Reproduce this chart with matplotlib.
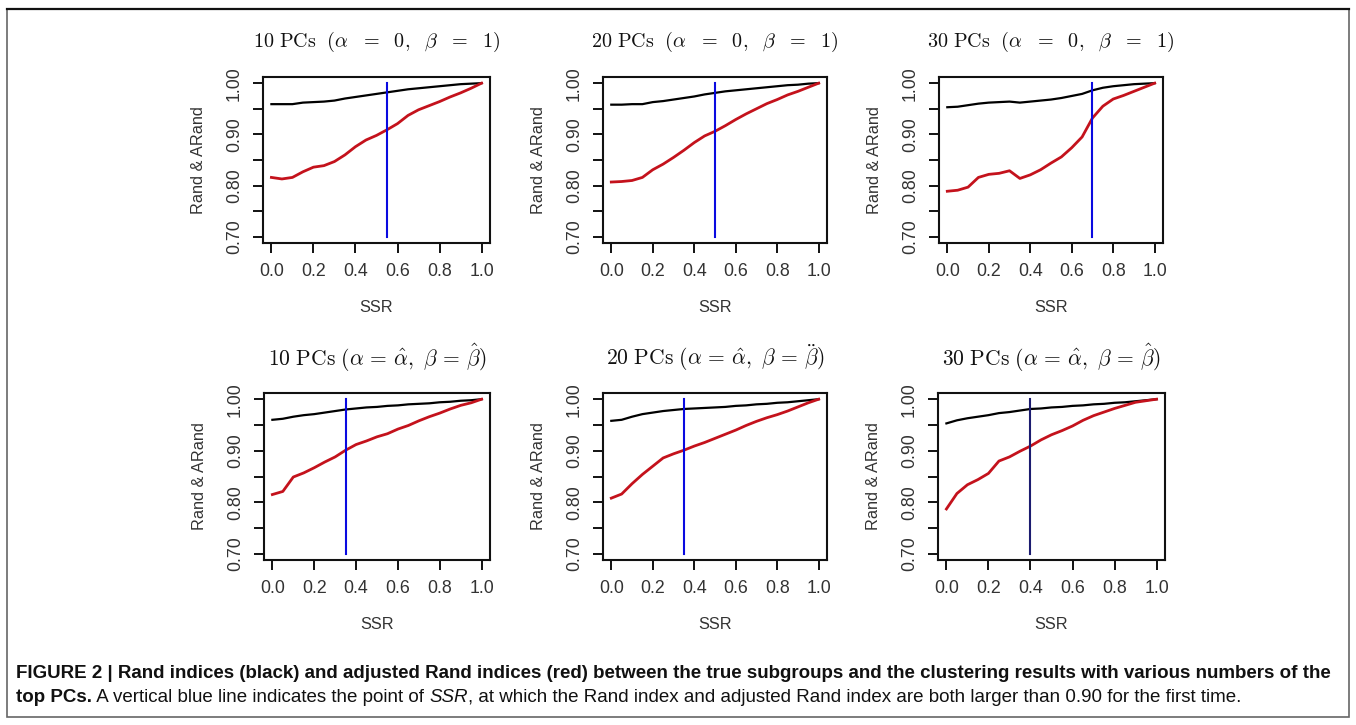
import matplotlib
matplotlib.use("Agg")
import matplotlib.pyplot as plt
from matplotlib.patches import Rectangle
from matplotlib.lines import Line2D
import numpy as np

plt.rcParams['mathtext.fontset'] = 'cm'
plt.rcParams['font.family'] = ['Liberation Sans', 'DejaVu Sans']

ssr = [0.00, 0.05, 0.10, 0.15, 0.20, 0.25, 0.30, 0.35, 0.40, 0.45, 0.50,
       0.55, 0.60, 0.65, 0.70, 0.75, 0.80, 0.85, 0.90, 0.95, 1.00]

# Rand index (black)
rand_10a = [0.959, 0.959, 0.959, 0.962, 0.963, 0.964, 0.966, 0.970, 0.973, 0.976, 0.979,
            0.982, 0.985, 0.988, 0.990, 0.992, 0.994, 0.996, 0.998, 0.999, 1.000]
rand_20a = [0.958, 0.958, 0.959, 0.959, 0.963, 0.965, 0.968, 0.971, 0.974, 0.978, 0.981,
            0.984, 0.986, 0.988, 0.990, 0.992, 0.994, 0.996, 0.997, 0.999, 1.000]
rand_30a = [0.953, 0.954, 0.957, 0.960, 0.962, 0.963, 0.964, 0.962, 0.964, 0.966, 0.968,
            0.971, 0.975, 0.979, 0.986, 0.991, 0.994, 0.996, 0.998, 0.999, 1.000]
rand_10b = [0.960, 0.962, 0.966, 0.969, 0.971, 0.974, 0.977, 0.980, 0.982, 0.984, 0.985,
            0.987, 0.988, 0.990, 0.991, 0.992, 0.994, 0.995, 0.997, 0.998, 1.000]
rand_20b = [0.958, 0.960, 0.966, 0.971, 0.974, 0.977, 0.979, 0.981, 0.982, 0.983, 0.984,
            0.985, 0.987, 0.988, 0.990, 0.991, 0.993, 0.994, 0.996, 0.998, 1.000]
rand_30b = [0.953, 0.959, 0.963, 0.966, 0.969, 0.973, 0.975, 0.978, 0.981, 0.982, 0.984,
            0.985, 0.987, 0.988, 0.990, 0.991, 0.993, 0.994, 0.996, 0.998, 1.000]

# Adjusted Rand index (red)
arand_10a = [0.816, 0.813, 0.816, 0.827, 0.836, 0.839, 0.847, 0.860, 0.876, 0.889, 0.898,
             0.909, 0.921, 0.937, 0.948, 0.956, 0.964, 0.973, 0.981, 0.990, 1.000]
arand_20a = [0.807, 0.808, 0.810, 0.816, 0.831, 0.842, 0.855, 0.869, 0.884, 0.897, 0.906,
             0.917, 0.929, 0.940, 0.950, 0.960, 0.968, 0.977, 0.984, 0.992, 1.000]
arand_30a = [0.789, 0.791, 0.797, 0.816, 0.822, 0.824, 0.829, 0.814, 0.821, 0.831, 0.844,
             0.856, 0.874, 0.895, 0.932, 0.955, 0.969, 0.976, 0.984, 0.992, 1.000]
arand_10b = [0.815, 0.821, 0.849, 0.857, 0.867, 0.878, 0.888, 0.901, 0.912, 0.919, 0.927,
             0.933, 0.942, 0.949, 0.958, 0.966, 0.973, 0.981, 0.988, 0.993, 1.000]
arand_20b = [0.808, 0.816, 0.836, 0.854, 0.870, 0.886, 0.894, 0.901, 0.909, 0.916, 0.924,
             0.932, 0.940, 0.949, 0.957, 0.964, 0.970, 0.977, 0.985, 0.993, 1.000]
arand_30b = [0.787, 0.817, 0.834, 0.844, 0.856, 0.880, 0.888, 0.899, 0.909, 0.921, 0.931,
             0.939, 0.948, 0.959, 0.968, 0.975, 0.982, 0.988, 0.994, 0.997, 1.000]

cut_points = [0.55, 0.50, 0.70, 0.35, 0.35, 0.40]
cut_colors = ['#0a0ae0', '#0a0ae0', '#0a0ae0', '#0a0ae0', '#0a0ae0', '#1c1c70']

titles = [r'$\mathrm{10\ PCs\ \ (}\alpha\ \ =\ \ 0,\ \ \beta\ \ =\ \ 1\mathrm{)}$',
          r'$\mathrm{20\ PCs\ \ (}\alpha\ \ =\ \ 0,\ \ \beta\ \ =\ \ 1\mathrm{)}$',
          r'$\mathrm{30\ PCs\ \ (}\alpha\ \ =\ \ 0,\ \ \beta\ \ =\ \ 1\mathrm{)}$',
          r'$\mathrm{10\ PCs\ (}\alpha\,=\,\hat{\alpha},\ \beta\,=\,\hat{\beta}\mathrm{)}$',
          r'$\mathrm{20\ PCs\ (}\alpha\,=\,\hat{\alpha},\ \beta\,=\,\ddot{\beta}\mathrm{)}$',
          r'$\mathrm{30\ PCs\ (}\alpha\,=\,\hat{\alpha},\ \beta\,=\,\hat{\beta}\mathrm{)}$']
title_sizes = [14.5, 14.5, 14.5, 15.5, 15.5, 15.5]

rand_all = [rand_10a, rand_20a, rand_30a, rand_10b, rand_20b, rand_30b]
arand_all = [arand_10a, arand_20a, arand_30a, arand_10b, arand_20b, arand_30b]

xticks = [0.0, 0.2, 0.4, 0.6, 0.8, 1.0]
xticklabels = ['0.0', '0.2', '0.4', '0.6', '0.8', '1.0']
yticks = [0.70, 0.75, 0.80, 0.85, 0.90, 0.95, 1.00]
yticklabels = ['0.70', '', '0.80', '', '0.90', '', '1.00']

W, H = 1356, 725
fig = plt.figure(figsize=(W / 100, H / 100), dpi=100)

# axes boxes in pixels: (left, top, right, bottom)
boxes = [(263, 77, 490, 243), (603, 77, 827, 243), (939, 77, 1163, 243),
         (264, 393, 490, 560), (603, 393, 827, 560), (938, 393, 1165, 560)]

tick_color = '#333333'
for i, (l, t, r, b) in enumerate(boxes):
    ax = fig.add_axes([l / W, 1 - b / H, (r - l) / W, (b - t) / H])
    ax.plot(ssr, rand_all[i], color='black', lw=1.6, solid_joinstyle='round')
    ax.plot(ssr, arand_all[i], color='#c4121c', lw=2.0, solid_joinstyle='round')
    ax.plot([cut_points[i], cut_points[i]], [0.70, 1.00], color=cut_colors[i], lw=1.5)
    ax.set_xlim(-0.04, 1.04)
    ax.set_ylim(0.688, 1.012)
    ax.set_xticks(xticks)
    ax.set_xticklabels(xticklabels)
    ax.set_yticks(yticks)
    ax.set_yticklabels(yticklabels, rotation=90, va='center')
    ax.tick_params(axis='both', direction='out', length=7.5, width=1.4,
                   labelsize=12.8, labelcolor=tick_color, color='#111111')
    ax.tick_params(axis='x', pad=7)
    ax.tick_params(axis='y', pad=7)
    for s in ax.spines.values():
        s.set_linewidth(1.5)
        s.set_color('#111111')
    ax.text(-0.286, 0.5, 'Rand & ARand', transform=ax.transAxes, rotation=90,
            ha='center', va='center', fontsize=11.7, color=tick_color)
    ax.text(0.5, -0.386, 'SSR', transform=ax.transAxes, ha='center', va='center',
            fontsize=11.7, color=tick_color)
    ty = 42 if i < 3 else 358
    fig.text((l + r) / 2 / W, 1 - ty / H, titles[i], ha='center', va='center',
             fontsize=title_sizes[i], color='#111111')

# outer frame
fig.patches.append(Rectangle((7 / W, 1 - 717 / H), (1349 - 7) / W, (717 - 9) / H,
                             transform=fig.transFigure, fill=False,
                             edgecolor='#666666', lw=1.2))
fig.lines.append(Line2D([7 / W, 1349 / W], [1 - 9 / H, 1 - 9 / H],
                        transform=fig.transFigure, color='#111111', lw=1.6))

# caption
line1 = ('FIGURE 2 | Rand indices (black) and adjusted Rand indices (red) between the true '
         'subgroups and the clustering results with various numbers of the')
seg2 = [('top PCs.', 'bold', 'normal'),
        (' A vertical blue line indicates the point of ', 'normal', 'normal'),
        ('SSR', 'normal', 'italic'),
        (', at which the Rand index and adjusted Rand index are both larger than 0.90 '
         'for the first time.', 'normal', 'normal')]

fig.canvas.draw()
renderer = fig.canvas.get_renderer()
x0 = 16
t1 = fig.text(x0 / W, 1 - 673 / H, line1, ha='left', va='center', fontsize=11,
              fontweight='bold', color='#111111')
w1 = t1.get_window_extent(renderer).width
fs = 11 * (1324 / w1)
t1.set_fontsize(fs)

x = x0 / W
for s, wt, st in seg2:
    tt = fig.text(x, 1 - 697 / H, s, ha='left', va='center', fontsize=fs,
                  fontweight=wt, fontstyle=st, color='#111111')
    bb = tt.get_window_extent(renderer)
    x = bb.x1 / W

fig.savefig('out.png', dpi=100)
